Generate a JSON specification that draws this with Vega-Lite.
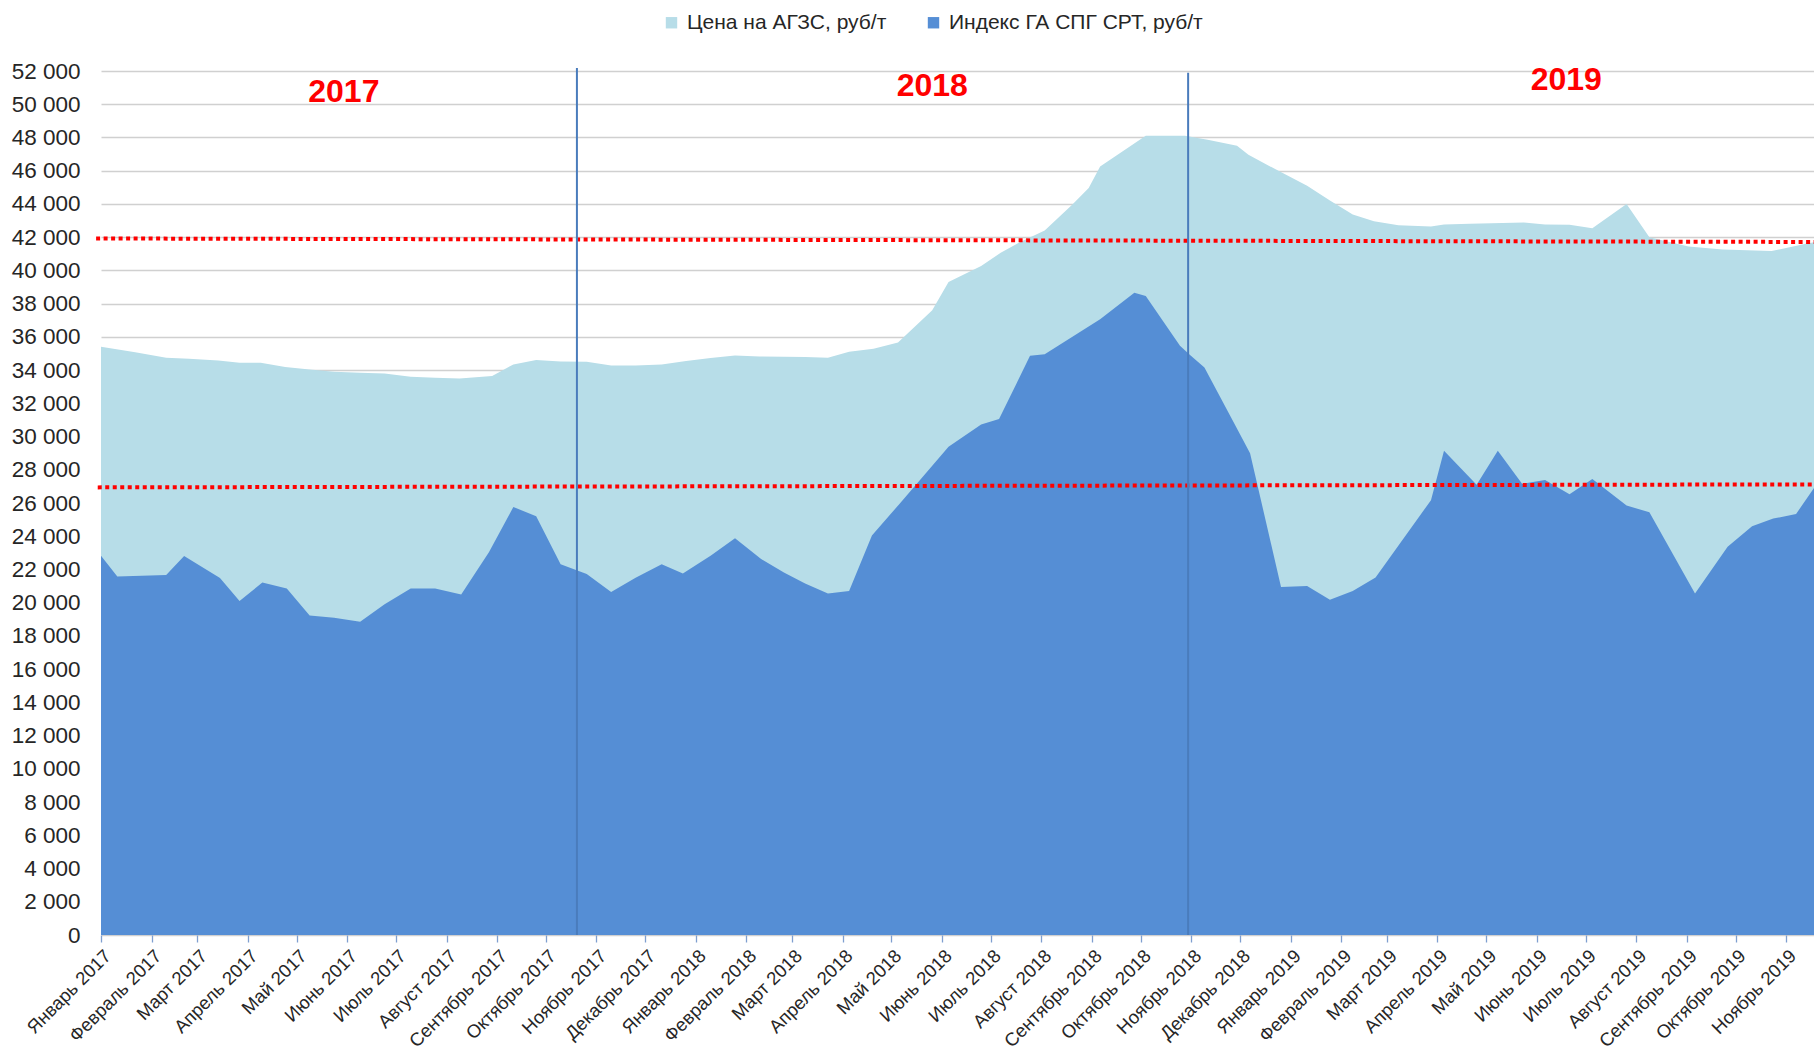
{
  "$schema": "https://vega.github.io/schema/vega-lite/v6.json",
  "autosize": {"type": "none"},
  "padding": {"left": 101, "top": 71, "right": 0, "bottom": 120},
  "width": 1713,
  "height": 864,
  "background": "white",
  "config": {
    "view": {"stroke": null},
    "font": "Liberation Sans",
    "legend": {
      "orient": "none",
      "legendX": 560,
      "legendY": -59,
      "direction": "horizontal",
      "columns": 2,
      "columnPadding": 36,
      "symbolType": "square",
      "symbolSize": 130,
      "symbolStrokeWidth": 0,
      "symbolOpacity": 1,
      "labelOffset": 5,
      "labelFont": "Liberation Sans",
      "labelFontSize": 21,
      "labelColor": "#262626",
      "labelLimit": 400
    }
  },
  "datasets": {
    "price": [
      {"date": "2017-01-01", "series": "Цена на АГЗС, руб/т", "value": 35400},
      {"date": "2017-01-22", "series": "Цена на АГЗС, руб/т", "value": 35080},
      {"date": "2017-02-10", "series": "Цена на АГЗС, руб/т", "value": 34740},
      {"date": "2017-02-24", "series": "Цена на АГЗС, руб/т", "value": 34680},
      {"date": "2017-03-14", "series": "Цена на АГЗС, руб/т", "value": 34580},
      {"date": "2017-03-27", "series": "Цена на АГЗС, руб/т", "value": 34440},
      {"date": "2017-04-09", "series": "Цена на АГЗС, руб/т", "value": 34440},
      {"date": "2017-04-24", "series": "Цена на АГЗС, руб/т", "value": 34180},
      {"date": "2017-05-09", "series": "Цена на АГЗС, руб/т", "value": 34040},
      {"date": "2017-05-24", "series": "Цена на АГЗС, руб/т", "value": 33900},
      {"date": "2017-06-09", "series": "Цена на АГЗС, руб/т", "value": 33840},
      {"date": "2017-06-24", "series": "Цена на АГЗС, руб/т", "value": 33800},
      {"date": "2017-07-10", "series": "Цена на АГЗС, руб/т", "value": 33600},
      {"date": "2017-07-25", "series": "Цена на АГЗС, руб/т", "value": 33540},
      {"date": "2017-08-09", "series": "Цена на АГЗС, руб/т", "value": 33500},
      {"date": "2017-08-29", "series": "Цена на АГЗС, руб/т", "value": 33640},
      {"date": "2017-09-11", "series": "Цена на АГЗС, руб/т", "value": 34340},
      {"date": "2017-09-25", "series": "Цена на АГЗС, руб/т", "value": 34600},
      {"date": "2017-10-10", "series": "Цена на АГЗС, руб/т", "value": 34520},
      {"date": "2017-10-26", "series": "Цена на АГЗС, руб/т", "value": 34500},
      {"date": "2017-11-10", "series": "Цена на АГЗС, руб/т", "value": 34280},
      {"date": "2017-11-25", "series": "Цена на АГЗС, руб/т", "value": 34280},
      {"date": "2017-12-11", "series": "Цена на АГЗС, руб/т", "value": 34340},
      {"date": "2017-12-26", "series": "Цена на АГЗС, руб/т", "value": 34540},
      {"date": "2018-01-10", "series": "Цена на АГЗС, руб/т", "value": 34720},
      {"date": "2018-01-25", "series": "Цена на АГЗС, руб/т", "value": 34880},
      {"date": "2018-02-09", "series": "Цена на АГЗС, руб/т", "value": 34820},
      {"date": "2018-02-24", "series": "Цена на АГЗС, руб/т", "value": 34800},
      {"date": "2018-03-09", "series": "Цена на АГЗС, руб/т", "value": 34780},
      {"date": "2018-03-23", "series": "Цена на АГЗС, руб/т", "value": 34740},
      {"date": "2018-04-05", "series": "Цена на АГЗС, руб/т", "value": 35100},
      {"date": "2018-04-20", "series": "Цена на АГЗС, руб/т", "value": 35280},
      {"date": "2018-05-05", "series": "Цена на АГЗС, руб/т", "value": 35660},
      {"date": "2018-05-26", "series": "Цена на АГЗС, руб/т", "value": 37600},
      {"date": "2018-06-05", "series": "Цена на АГЗС, руб/т", "value": 39300},
      {"date": "2018-06-25", "series": "Цена на АГЗС, руб/т", "value": 40260},
      {"date": "2018-07-07", "series": "Цена на АГЗС, руб/т", "value": 41060},
      {"date": "2018-07-20", "series": "Цена на АГЗС, руб/т", "value": 41760},
      {"date": "2018-08-03", "series": "Цена на АГЗС, руб/т", "value": 42400},
      {"date": "2018-08-20", "series": "Цена на АГЗС, руб/т", "value": 43960},
      {"date": "2018-08-30", "series": "Цена на АГЗС, руб/т", "value": 44960},
      {"date": "2018-09-06", "series": "Цена на АГЗС, руб/т", "value": 46250},
      {"date": "2018-10-04", "series": "Цена на АГЗС, руб/т", "value": 48100},
      {"date": "2018-10-28", "series": "Цена на АГЗС, руб/т", "value": 48100},
      {"date": "2018-11-11", "series": "Цена на АГЗС, руб/т", "value": 47860},
      {"date": "2018-11-29", "series": "Цена на АГЗС, руб/т", "value": 47500},
      {"date": "2018-12-06", "series": "Цена на АГЗС, руб/т", "value": 46960},
      {"date": "2018-12-25", "series": "Цена на АГЗС, руб/т", "value": 45960},
      {"date": "2019-01-11", "series": "Цена на АГЗС, руб/т", "value": 45100},
      {"date": "2019-01-25", "series": "Цена на АГЗС, руб/т", "value": 44200},
      {"date": "2019-02-08", "series": "Цена на АГЗС, руб/т", "value": 43360},
      {"date": "2019-02-21", "series": "Цена на АГЗС, руб/т", "value": 42960},
      {"date": "2019-03-08", "series": "Цена на АГЗС, руб/т", "value": 42720},
      {"date": "2019-03-28", "series": "Цена на АГЗС, руб/т", "value": 42640},
      {"date": "2019-04-05", "series": "Цена на АГЗС, руб/т", "value": 42760},
      {"date": "2019-04-21", "series": "Цена на АГЗС, руб/т", "value": 42800},
      {"date": "2019-05-24", "series": "Цена на АГЗС, руб/т", "value": 42880},
      {"date": "2019-06-06", "series": "Цена на АГЗС, руб/т", "value": 42760},
      {"date": "2019-06-21", "series": "Цена на АГЗС, руб/т", "value": 42740},
      {"date": "2019-07-05", "series": "Цена на АГЗС, руб/т", "value": 42540},
      {"date": "2019-07-26", "series": "Цена на АГЗС, руб/т", "value": 44000},
      {"date": "2019-08-09", "series": "Цена на АГЗС, руб/т", "value": 42000},
      {"date": "2019-09-02", "series": "Цена на АГЗС, руб/т", "value": 41440},
      {"date": "2019-09-23", "series": "Цена на АГЗС, руб/т", "value": 41260},
      {"date": "2019-10-23", "series": "Цена на АГЗС, руб/т", "value": 41160},
      {"date": "2019-11-13", "series": "Цена на АГЗС, руб/т", "value": 41600},
      {"date": "2019-11-18", "series": "Цена на АГЗС, руб/т", "value": 41700}
    ],
    "index": [
      {"date": "2017-01-01", "series": "Индекс ГА СПГ СРТ, руб/т", "value": 22830},
      {"date": "2017-01-11", "series": "Индекс ГА СПГ СРТ, руб/т", "value": 21580},
      {"date": "2017-02-10", "series": "Индекс ГА СПГ СРТ, руб/т", "value": 21660},
      {"date": "2017-02-21", "series": "Индекс ГА СПГ СРТ, руб/т", "value": 22810},
      {"date": "2017-03-15", "series": "Индекс ГА СПГ СРТ, руб/т", "value": 21480},
      {"date": "2017-03-27", "series": "Индекс ГА СПГ СРТ, руб/т", "value": 20100},
      {"date": "2017-04-10", "series": "Индекс ГА СПГ СРТ, руб/т", "value": 21210},
      {"date": "2017-04-25", "series": "Индекс ГА СПГ СРТ, руб/т", "value": 20850},
      {"date": "2017-05-09", "series": "Индекс ГА СПГ СРТ, руб/т", "value": 19230},
      {"date": "2017-05-24", "series": "Индекс ГА СПГ СРТ, руб/т", "value": 19090},
      {"date": "2017-06-09", "series": "Индекс ГА СПГ СРТ, руб/т", "value": 18850},
      {"date": "2017-06-24", "series": "Индекс ГА СПГ СРТ, руб/т", "value": 19900},
      {"date": "2017-07-10", "series": "Индекс ГА СПГ СРТ, руб/т", "value": 20850},
      {"date": "2017-07-25", "series": "Индекс ГА СПГ СРТ, руб/т", "value": 20850},
      {"date": "2017-08-10", "series": "Индекс ГА СПГ СРТ, руб/т", "value": 20500},
      {"date": "2017-08-27", "series": "Индекс ГА СПГ СРТ, руб/т", "value": 23030},
      {"date": "2017-09-11", "series": "Индекс ГА СПГ СРТ, руб/т", "value": 25760},
      {"date": "2017-09-25", "series": "Индекс ГА СПГ СРТ, руб/т", "value": 25210},
      {"date": "2017-10-10", "series": "Индекс ГА СПГ СРТ, руб/т", "value": 22320},
      {"date": "2017-10-26", "series": "Индекс ГА СПГ СРТ, руб/т", "value": 21720},
      {"date": "2017-11-10", "series": "Индекс ГА СПГ СРТ, руб/т", "value": 20650},
      {"date": "2017-11-25", "series": "Индекс ГА СПГ СРТ, руб/т", "value": 21500},
      {"date": "2017-12-11", "series": "Индекс ГА СПГ СРТ, руб/т", "value": 22320},
      {"date": "2017-12-24", "series": "Индекс ГА СПГ СРТ, руб/т", "value": 21760},
      {"date": "2018-01-10", "series": "Индекс ГА СПГ СРТ, руб/т", "value": 22830},
      {"date": "2018-01-25", "series": "Индекс ГА СПГ СРТ, руб/т", "value": 23880},
      {"date": "2018-02-10", "series": "Индекс ГА СПГ СРТ, руб/т", "value": 22630},
      {"date": "2018-02-24", "series": "Индекс ГА СПГ СРТ, руб/т", "value": 21820},
      {"date": "2018-03-09", "series": "Индекс ГА СПГ СРТ, руб/т", "value": 21150},
      {"date": "2018-03-23", "series": "Индекс ГА СПГ СРТ, руб/т", "value": 20550},
      {"date": "2018-04-05", "series": "Индекс ГА СПГ СРТ, руб/т", "value": 20710},
      {"date": "2018-04-19", "series": "Индекс ГА СПГ СРТ, руб/т", "value": 24040},
      {"date": "2018-05-06", "series": "Индекс ГА СПГ СРТ, руб/т", "value": 25960},
      {"date": "2018-06-05", "series": "Индекс ГА СПГ СРТ, руб/т", "value": 29390},
      {"date": "2018-06-25", "series": "Индекс ГА СПГ СРТ, руб/т", "value": 30730},
      {"date": "2018-07-06", "series": "Индекс ГА СПГ СРТ, руб/т", "value": 31050},
      {"date": "2018-07-25", "series": "Индекс ГА СПГ СРТ, руб/т", "value": 34860},
      {"date": "2018-08-03", "series": "Индекс ГА СПГ СРТ, руб/т", "value": 34960},
      {"date": "2018-09-06", "series": "Индекс ГА СПГ СРТ, руб/т", "value": 37060},
      {"date": "2018-09-27", "series": "Индекс ГА СПГ СРТ, руб/т", "value": 38660},
      {"date": "2018-10-04", "series": "Индекс ГА СПГ СРТ, руб/т", "value": 38460},
      {"date": "2018-10-25", "series": "Индекс ГА СПГ СРТ, руб/т", "value": 35460},
      {"date": "2018-10-31", "series": "Индекс ГА СПГ СРТ, руб/т", "value": 34920},
      {"date": "2018-11-09", "series": "Индекс ГА СПГ СРТ, руб/т", "value": 34150},
      {"date": "2018-11-27", "series": "Индекс ГА СПГ СРТ, руб/т", "value": 30850},
      {"date": "2018-12-07", "series": "Индекс ГА СПГ СРТ, руб/т", "value": 29000},
      {"date": "2018-12-26", "series": "Индекс ГА СПГ СРТ, руб/т", "value": 20950},
      {"date": "2019-01-11", "series": "Индекс ГА СПГ СРТ, руб/т", "value": 21000},
      {"date": "2019-01-25", "series": "Индекс ГА СПГ СРТ, руб/т", "value": 20170},
      {"date": "2019-02-08", "series": "Индекс ГА СПГ СРТ, руб/т", "value": 20700},
      {"date": "2019-02-22", "series": "Индекс ГА СПГ СРТ, руб/т", "value": 21520},
      {"date": "2019-03-28", "series": "Индекс ГА СПГ СРТ, руб/т", "value": 26170},
      {"date": "2019-04-05", "series": "Индекс ГА СПГ СРТ, руб/т", "value": 29140},
      {"date": "2019-04-25", "series": "Индекс ГА СПГ СРТ, руб/т", "value": 27100},
      {"date": "2019-05-08", "series": "Индекс ГА СПГ СРТ, руб/т", "value": 29140},
      {"date": "2019-05-23", "series": "Индекс ГА СПГ СРТ, руб/т", "value": 27150},
      {"date": "2019-06-06", "series": "Индекс ГА СПГ СРТ, руб/т", "value": 27380},
      {"date": "2019-06-21", "series": "Индекс ГА СПГ СРТ, руб/т", "value": 26520},
      {"date": "2019-07-05", "series": "Индекс ГА СПГ СРТ, руб/т", "value": 27440},
      {"date": "2019-07-26", "series": "Индекс ГА СПГ СРТ, руб/т", "value": 25850},
      {"date": "2019-08-09", "series": "Индекс ГА СПГ СРТ, руб/т", "value": 25440},
      {"date": "2019-09-06", "series": "Индекс ГА СПГ СРТ, руб/т", "value": 20560},
      {"date": "2019-09-26", "series": "Индекс ГА СПГ СРТ, руб/т", "value": 23370},
      {"date": "2019-10-11", "series": "Индекс ГА СПГ СРТ, руб/т", "value": 24600},
      {"date": "2019-10-24", "series": "Индекс ГА СПГ СРТ, руб/т", "value": 25060},
      {"date": "2019-11-07", "series": "Индекс ГА СПГ СРТ, руб/т", "value": 25340},
      {"date": "2019-11-18", "series": "Индекс ГА СПГ СРТ, руб/т", "value": 26900}
    ],
    "levels": [
      {"start": "2016-12-29", "end": "2019-11-18", "from": 41920, "to": 41710},
      {"start": "2016-12-30", "end": "2019-11-18", "from": 26940, "to": 27120}
    ],
    "dividers": [
      {"date": "2017-10-20", "bottom": 0, "top": 52180},
      {"date": "2018-10-30", "bottom": 0, "top": 51900}
    ],
    "years": [
      {"date": "2017-05-30", "value": 50720, "label": "2017"},
      {"date": "2018-05-26", "value": 51080, "label": "2018"},
      {"date": "2019-06-19", "value": 51440, "label": "2019"}
    ]
  },
  "encoding": {
    "x": {
      "field": "date",
      "type": "temporal",
      "scale": {
        "type": "utc",
        "domain": [
          {"year": 2017, "month": 1, "date": 1, "utc": true},
          {"year": 2019, "month": 11, "date": 18, "utc": true}
        ]
      },
      "axis": {
        "title": null,
        "grid": false,
        "domain": false,
        "ticks": true,
        "tickSize": 7,
        "tickColor": "#7f9fd0",
        "tickWidth": 1.3,
        "tickCount": 40,
        "labelAngle": -45,
        "labelAlign": "right",
        "labelBaseline": "top",
        "labelPadding": 4,
        "labelFont": "Liberation Sans",
        "labelFontSize": 18.5,
        "labelColor": "#262626",
        "labelOverlap": false,
        "labelBound": false,
        "labelFlush": false,
        "values": [
          {"year": 2017, "month": 1, "date": 1, "utc": true},
          {"year": 2017, "month": 2, "date": 1, "utc": true},
          {"year": 2017, "month": 3, "date": 1, "utc": true},
          {"year": 2017, "month": 4, "date": 1, "utc": true},
          {"year": 2017, "month": 5, "date": 1, "utc": true},
          {"year": 2017, "month": 6, "date": 1, "utc": true},
          {"year": 2017, "month": 7, "date": 1, "utc": true},
          {"year": 2017, "month": 8, "date": 1, "utc": true},
          {"year": 2017, "month": 9, "date": 1, "utc": true},
          {"year": 2017, "month": 10, "date": 1, "utc": true},
          {"year": 2017, "month": 11, "date": 1, "utc": true},
          {"year": 2017, "month": 12, "date": 1, "utc": true},
          {"year": 2018, "month": 1, "date": 1, "utc": true},
          {"year": 2018, "month": 2, "date": 1, "utc": true},
          {"year": 2018, "month": 3, "date": 1, "utc": true},
          {"year": 2018, "month": 4, "date": 1, "utc": true},
          {"year": 2018, "month": 5, "date": 1, "utc": true},
          {"year": 2018, "month": 6, "date": 1, "utc": true},
          {"year": 2018, "month": 7, "date": 1, "utc": true},
          {"year": 2018, "month": 8, "date": 1, "utc": true},
          {"year": 2018, "month": 9, "date": 1, "utc": true},
          {"year": 2018, "month": 10, "date": 1, "utc": true},
          {"year": 2018, "month": 11, "date": 1, "utc": true},
          {"year": 2018, "month": 12, "date": 1, "utc": true},
          {"year": 2019, "month": 1, "date": 1, "utc": true},
          {"year": 2019, "month": 2, "date": 1, "utc": true},
          {"year": 2019, "month": 3, "date": 1, "utc": true},
          {"year": 2019, "month": 4, "date": 1, "utc": true},
          {"year": 2019, "month": 5, "date": 1, "utc": true},
          {"year": 2019, "month": 6, "date": 1, "utc": true},
          {"year": 2019, "month": 7, "date": 1, "utc": true},
          {"year": 2019, "month": 8, "date": 1, "utc": true},
          {"year": 2019, "month": 9, "date": 1, "utc": true},
          {"year": 2019, "month": 10, "date": 1, "utc": true},
          {"year": 2019, "month": 11, "date": 1, "utc": true}
        ],
        "labelExpr": "['Январь','Февраль','Март','Апрель','Май','Июнь','Июль','Август','Сентябрь','Октябрь','Ноябрь','Декабрь'][utcmonth(datum.value)] + ' ' + utcyear(datum.value)"
      }
    },
    "y": {
      "field": "value",
      "type": "quantitative",
      "stack": null,
      "scale": {"domain": [0, 52000], "nice": false, "zero": true},
      "axis": {
        "title": null,
        "zindex": 0,
        "grid": true,
        "gridColor": "#d0d0d0",
        "gridWidth": 1.4,
        "domain": false,
        "ticks": false,
        "tickSize": 0,
        "labelPadding": 21,
        "labelFont": "Liberation Sans",
        "labelFontSize": 22.5,
        "labelColor": "#262626",
        "labelOverlap": false,
        "labelBound": false,
        "tickCount": 30,
        "values": [0, 2000, 4000, 6000, 8000, 10000, 12000, 14000, 16000, 18000, 20000, 22000, 24000, 26000, 28000, 30000, 32000, 34000, 36000, 38000, 40000, 42000, 44000, 46000, 48000, 50000, 52000],
        "labelExpr": "datum.value == 0 ? '0' : floor(datum.value / 1000) + ' 000'"
      }
    }
  },
  "layer": [
    {
      "data": {"name": "price"},
      "mark": {"type": "area", "opacity": 1, "interpolate": "linear"},
      "encoding": {
        "color": {
          "field": "series",
          "type": "nominal",
          "scale": {
            "domain": ["Цена на АГЗС, руб/т", "Индекс ГА СПГ СРТ, руб/т"],
            "range": ["#b7dde8", "#558ed5"]
          },
          "legend": {"title": null}
        }
      }
    },
    {
      "data": {"name": "index"},
      "mark": {"type": "area", "opacity": 1, "interpolate": "linear"},
      "encoding": {
        "color": {"field": "series", "type": "nominal", "legend": {"title": null}}
      }
    },
    {
      "data": {"name": "levels"},
      "mark": {"type": "rule", "color": "#ff0000", "strokeWidth": 4, "strokeDash": [4, 3.5], "strokeCap": "butt"},
      "encoding": {
        "x": {"field": "start", "type": "temporal"},
        "x2": {"field": "end"},
        "y": {"field": "from", "type": "quantitative"},
        "y2": {"field": "to"}
      }
    },
    {
      "data": {"name": "dividers"},
      "mark": {"type": "rule", "color": "#4a7cbc", "strokeWidth": 2},
      "encoding": {
        "x": {"field": "date", "type": "temporal"},
        "y": {"field": "bottom", "type": "quantitative"},
        "y2": {"field": "top"}
      }
    },
    {
      "data": {"name": "years"},
      "mark": {"type": "text", "color": "#ff0000", "font": "Liberation Sans", "fontWeight": "bold", "fontSize": 32, "align": "center", "baseline": "middle"},
      "encoding": {
        "text": {"field": "label"}
      }
    }
  ]
}
